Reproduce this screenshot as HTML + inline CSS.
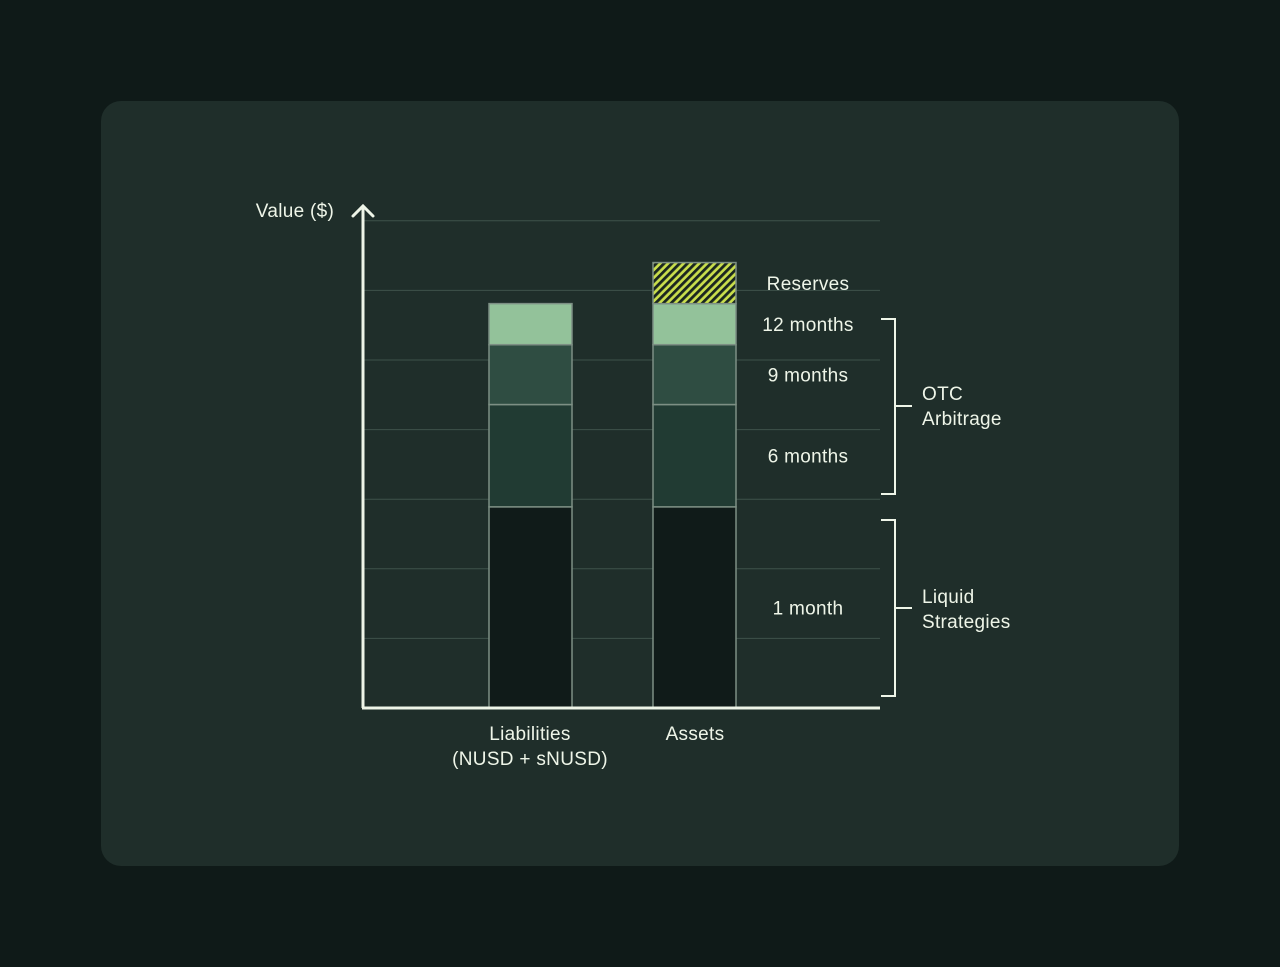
<!DOCTYPE html>
<html><head><meta charset="utf-8"><style>
html,body{margin:0;padding:0;background:#0f1a18;}
svg{display:block;font-family:"Liberation Sans",sans-serif;}
</style></head><body>
<svg width="1280" height="967" viewBox="0 0 1280 967">
<defs>
<pattern id="hatch" patternUnits="userSpaceOnUse" width="5.5" height="5.5" patternTransform="rotate(45)">
<rect width="5.5" height="5.5" fill="#c9de4c"/><rect width="2.8" height="5.5" fill="#1a2620"/>
</pattern>
</defs>
<rect x="101" y="101" width="1078" height="765" rx="20" fill="#1f2e2a"/>
<g id="grid"></g>
<g id="bars"></g>
<g id="labels"></g>
<line x1="363" y1="708" x2="363" y2="206" stroke="#eef5e8" stroke-width="3"/>
<polyline points="353,216 363,206 373,216" fill="none" stroke="#eef5e8" stroke-width="3" stroke-linecap="round"/>
<line x1="362" y1="708" x2="880" y2="708" stroke="#eef5e8" stroke-width="3"/>
<text x="295" y="217" fill="#eef5e8" font-size="19" letter-spacing="0.3" text-anchor="middle">Value ($)</text>
<text x="530" y="740" fill="#eef5e8" font-size="19" letter-spacing="0.3" text-anchor="middle">Liabilities</text>
<text x="530" y="765" fill="#eef5e8" font-size="19" letter-spacing="0.3" text-anchor="middle">(NUSD + sNUSD)</text>
<text x="695" y="740" fill="#eef5e8" font-size="19" letter-spacing="0.3" text-anchor="middle">Assets</text>
<g fill="none" stroke="#eef5e8" stroke-width="2">
<polyline points="881,319 895,319 895,494 881,494"/>
<line x1="895" y1="406" x2="912" y2="406"/>
<polyline points="881,520 895,520 895,696 881,696"/>
<line x1="895" y1="608" x2="912" y2="608"/>
</g>
<g fill="#eef5e8" font-size="19" letter-spacing="0.3">
<text x="922" y="400">OTC</text>
<text x="922" y="425">Arbitrage</text>
<text x="922" y="603">Liquid</text>
<text x="922" y="628">Strategies</text>
</g>
<script>
const categories=["Liabilities","Assets"];
const segmentNames=["1 month","6 months","9 months","12 months","Reserves"];
const liabilities=[2.89,1.47,0.86,0.59,0];
const assets=[2.89,1.47,0.86,0.59,0.59];
const gridTicks=[1,2,3,4,5,6,7];
const fills=["#101b19","#213b33","#2f4d42","#93c29a","url(#hatch)"];
const NS="http://www.w3.org/2000/svg";
function yScale(v){return 708-v*69.6;}
const barX=[489,653], barW=83;
const grid=document.getElementById('grid');
gridTicks.forEach(t=>{const l=document.createElementNS(NS,'line');
l.setAttribute('x1',363);l.setAttribute('x2',880);l.setAttribute('y1',yScale(t));l.setAttribute('y2',yScale(t));
l.setAttribute('stroke','#3e524a');l.setAttribute('stroke-width','1');


grid.appendChild(l);});
const bars=document.getElementById('bars');
[liabilities,assets].forEach((series,ci)=>{let acc=0;
series.forEach((v,si)=>{if(v<=0)return;const r=document.createElementNS(NS,'rect');
r.setAttribute('x',barX[ci]);r.setAttribute('width',barW);r.setAttribute('y',yScale(acc+v));r.setAttribute('height',yScale(acc)-yScale(acc+v));
r.setAttribute('fill',fills[si]);r.setAttribute('stroke','#7d8f84');r.setAttribute('stroke-width','1.5');


bars.appendChild(r);acc+=v;});});
const labels=document.getElementById('labels');let acc=0;
assets.forEach((v,si)=>{const t=document.createElementNS(NS,'text');
t.setAttribute('x',808);t.setAttribute('y',(yScale(acc)+yScale(acc+v))/2+7);t.setAttribute('text-anchor','middle');
t.setAttribute('fill','#eef5e8');t.setAttribute('font-size','19');t.setAttribute('letter-spacing','0.3');t.textContent=segmentNames[si];


labels.appendChild(t);acc+=v;});
</script>
</svg>
</body></html>
